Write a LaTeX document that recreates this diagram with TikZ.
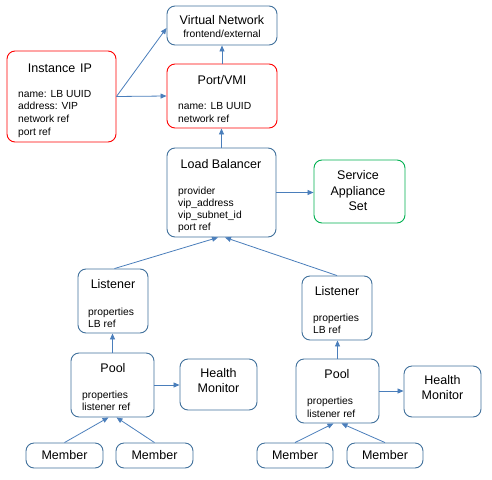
\documentclass[tikz,border=0pt]{standalone}
\usepackage{fontspec}
\setmainfont{Liberation Sans}
\usetikzlibrary{arrows.meta}
\definecolor{boxblue}{HTML}{41719C}
\definecolor{boxred}{HTML}{FF0000}
\definecolor{boxgreen}{HTML}{00B050}
\definecolor{arrowblue}{HTML}{4A7EBB}
\tikzset{
  boxbase/.style={draw, rounded corners=8pt, line width=0.9pt, inner sep=0pt, fill=white},
  bluebox/.style={boxbase, draw=boxblue},
  redbox/.style={boxbase, draw=boxred},
  greenbox/.style={boxbase, draw=boxgreen},
  ttl/.style={font=\fontsize{12.5}{15}\selectfont, inner sep=0pt, anchor=base},
  sub/.style={font=\fontsize{10.3}{12.8}\selectfont, inner sep=0pt, anchor=base},
  attr/.style={font=\fontsize{10.3}{12.8}\selectfont, inner sep=0pt, anchor=base west},
  conn/.style={draw=arrowblue, line width=0.8pt, -{Triangle[length=6pt,width=5pt]}},
}
\begin{document}
\begin{tikzpicture}[x=1pt,y=-1pt]
\useasboundingbox (0,0) rectangle (492,479);
% boxes
\node[bluebox, minimum width=110pt, minimum height=39pt] (vn) at (222,25.5) {};
\node[redbox, minimum width=109pt, minimum height=91pt] (iip) at (61.5,96.5) {};
\node[redbox, minimum width=110pt, minimum height=64pt] (port) at (222,96) {};
\node[bluebox, minimum width=109pt, minimum height=89pt] (lb) at (221.5,192.5) {};
\node[greenbox, minimum width=91pt, minimum height=63pt] (sas) at (359.5,191.5) {};
\node[bluebox, minimum width=70pt, minimum height=64pt] (lis1) at (113,301) {};
\node[bluebox, minimum width=83pt, minimum height=64pt] (pool1) at (112.5,385) {};
\node[bluebox, minimum width=77pt, minimum height=51pt] (hm1) at (218.5,384.5) {};
\node[bluebox, minimum width=77pt, minimum height=25pt] (m1) at (64.5,455.5) {};
\node[bluebox, minimum width=77pt, minimum height=25pt] (m2) at (154.5,455.5) {};
\node[bluebox, minimum width=70pt, minimum height=64pt] (lis2) at (337,308) {};
\node[bluebox, minimum width=83pt, minimum height=64pt] (pool2) at (337.5,391) {};
\node[bluebox, minimum width=77pt, minimum height=51pt] (hm2) at (442.5,391.5) {};
\node[bluebox, minimum width=76pt, minimum height=25pt] (m3) at (295,455.5) {};
\node[bluebox, minimum width=76pt, minimum height=25pt] (m4) at (385,455.5) {};
% texts
\node[ttl] (vnt) at (222,24.5) {Virtual Network};
\node[sub] (vns) at (222,37.7) {frontend/external};
\node[ttl] (iipt) at (60,72.5) {Instance\hspace{5pt}IP};
\node[attr] (iip1) at (18,97) {name: LB UUID};
\node[attr] (iip2) at (18,109.8) {address: VIP};
\node[attr] (iip3) at (18,122.6) {network ref};
\node[attr] (iip4) at (18,135.4) {port ref};
\node[ttl] (portt) at (222,84.5) {Port/VMI};
\node[attr] (port1) at (178,109.7) {name: LB UUID};
\node[attr] (port2) at (178,122.5) {network ref};
\node[ttl] (lbt) at (221,168.5) {Load Balancer};
\node[attr] (lb1) at (178,194.3) {provider};
\node[attr] (lb2) at (178,206.5) {vip\_address};
\node[attr] (lb3) at (178,218.7) {vip\_subnet\_id};
\node[attr] (lb4) at (178,230.9) {port ref};
\node[ttl] (sas1) at (358,179.5) {Service};
\node[ttl] (sas2) at (358,195) {Appliance};
\node[ttl] (sas3) at (358,210.5) {Set};
\node[ttl] (lis1t) at (113,288.5) {Listener};
\node[attr] (lis1a) at (88,315.4) {properties};
\node[attr] (lis1b) at (88,327.2) {LB ref};
\node[ttl] (pool1t) at (113,372.5) {Pool};
\node[attr] (pool1a) at (82,398) {properties};
\node[attr] (pool1b) at (82,410.4) {listener ref};
\node[ttl] (hm1a) at (218.5,377.5) {Health};
\node[ttl] (hm1b) at (218.5,392.5) {Monitor};
\node[ttl] (m1t) at (64.5,459.5) {Member};
\node[ttl] (m2t) at (154.5,459.5) {Member};
\node[ttl] (lis2t) at (337,295.5) {Listener};
\node[attr] (lis2a) at (313,321.4) {properties};
\node[attr] (lis2b) at (313,333.4) {LB ref};
\node[ttl] (pool2t) at (337,378.5) {Pool};
\node[attr] (pool2a) at (307,404.7) {properties};
\node[attr] (pool2b) at (307,417) {listener ref};
\node[ttl] (hm2a) at (442.5,384.5) {Health};
\node[ttl] (hm2b) at (442.5,399.5) {Monitor};
\node[ttl] (m3t) at (295,459.5) {Member};
\node[ttl] (m4t) at (385,459.5) {Member};
% connectors
\draw[conn] (iip.east) -- (port.west);
\draw[conn] (iip.east) -- ([yshift=-2.5pt]vn.west);
\draw[conn] (port.north) -- (vn.south);
\draw[conn] (lb.north) -- (lb.north |- port.south);
\draw[conn] (lb.east) -- (lb.east -| sas.west);
\draw[conn] ([xshift=1.5pt]lis1.north) -- ([xshift=-3.5pt]lb.south);
\draw[conn] (lis2.north) -- ([xshift=3.5pt]lb.south);
\draw[conn] (pool1.north) -- (pool1.north |- lis1.south);
\draw[conn] (pool2.north) -- (pool2.north |- lis2.south);
\draw[conn] (pool1.east) -- (pool1.east -| hm1.west);
\draw[conn] (pool2.east) -- (pool2.east -| hm2.west);
\draw[conn] (m1.north) -- ([xshift=-4pt]pool1.south);
\draw[conn] (m2.north) -- ([xshift=4pt]pool1.south);
\draw[conn] (m3.north) -- ([xshift=-4pt]pool2.south);
\draw[conn] (m4.north) -- ([xshift=4pt]pool2.south);
\end{tikzpicture}
\end{document}
